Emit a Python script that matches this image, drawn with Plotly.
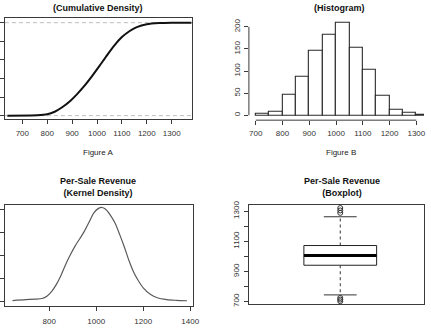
import plotly.graph_objects as go

W, H = 431, 332
FONT = "Liberation Sans, Arial, sans-serif"
AX = "#3a3a3a"

# ---- Figure A: cumulative share of sales by revenue ----
ecdf_revenue = [640, 760, 800, 830, 860, 890, 920, 950, 980, 1010, 1040,
                1070, 1100, 1130, 1160, 1200, 1250, 1300, 1380]
ecdf_share = [0, 0.004, 0.014, 0.042, 0.09, 0.152, 0.232, 0.322, 0.425, 0.535, 0.648,
              0.755, 0.845, 0.908, 0.952, 0.983, 0.996, 1.0, 1.0]
ecdf_xticks = [700, 800, 900, 1000, 1100, 1200, 1300]
ecdf_yticks = [0, 0.2, 0.4, 0.6, 0.8, 1.0]

# ---- Figure B: histogram of revenue (bins of 50) ----
hist_edges = [700, 750, 800, 850, 900, 950, 1000, 1050, 1100, 1150, 1200, 1250, 1300, 1350]
hist_counts = [3, 9, 47, 87, 145, 183, 210, 153, 104, 44, 12, 5, 2]
hist_xticks = [700, 800, 900, 1000, 1100, 1200, 1300]
hist_yticks = [0, 50, 100, 150, 200]

# ---- Kernel density estimate ----
kde_revenue = [644, 700, 740, 770, 790, 810, 830, 850, 870, 890, 910, 930, 950, 970,
               990, 1010, 1025, 1040, 1060, 1080, 1100, 1120, 1140, 1160, 1180, 1200,
               1230, 1260, 1300, 1340, 1386]
kde_density = [0.00003, 0.00007, 0.00009, 0.00012, 0.00022, 0.00042, 0.00072, 0.00112,
               0.0016, 0.00202, 0.0024, 0.00272, 0.00305, 0.00345, 0.00385, 0.00404,
               0.00408, 0.004, 0.00375, 0.0034, 0.0029, 0.00235, 0.00175, 0.00125,
               0.00088, 0.00058, 0.0003, 0.00015, 0.00007, 0.00004, 0.00002]
kde_xticks = [800, 1000, 1200, 1400]
kde_yticks = [0, 0.001, 0.002, 0.003, 0.004]

# ---- Boxplot summary ----
box_lower_whisker = 744
box_q1 = 941
box_median = 1006
box_q3 = 1072
box_upper_whisker = 1263
box_outliers = [702, 713, 724, 1289, 1305, 1321]
box_yticks = [700, 800, 900, 1000, 1100, 1200, 1300]
box_yticklabels = ["700", "", "900", "", "1100", "", "1300"]


def xdom(left, right):
    return [left / W, min(right / W, 1.0)]


def ydom(top, bottom):
    return [1 - bottom / H, 1 - top / H]


fig = go.Figure()

# Figure A
fig.add_trace(go.Scatter(x=ecdf_revenue, y=ecdf_share, mode="lines",
                         line=dict(color="#111111", width=2, shape="spline", smoothing=0.6),
                         xaxis="x", yaxis="y", showlegend=False, hoverinfo="skip"))
for level in (ecdf_yticks[0], ecdf_yticks[-1]):
    fig.add_shape(type="line", xref="x domain", yref="y", x0=0, x1=1, y0=level, y1=level,
                  line=dict(color="#bdbdbd", width=1, dash="4px,3px"), layer="below")

# Figure B
centers = [(a + b) / 2 for a, b in zip(hist_edges[:-1], hist_edges[1:])]
widths = [b - a for a, b in zip(hist_edges[:-1], hist_edges[1:])]
fig.add_trace(go.Bar(x=centers, y=hist_counts, width=widths,
                     marker=dict(color="white", line=dict(color="#2a2a2a", width=1.1)),
                     xaxis="x2", yaxis="y2", showlegend=False, hoverinfo="skip"))
fig.add_shape(type="line", xref="x2", yref="y2 domain", x0=hist_xticks[0], x1=hist_xticks[-1],
              y0=0, y1=0, line=dict(color=AX, width=1))
fig.add_shape(type="line", xref="x2 domain", yref="y2", x0=0, x1=0, y0=hist_yticks[0],
              y1=hist_yticks[-1], line=dict(color=AX, width=1))

# Kernel density
fig.add_trace(go.Scatter(x=kde_revenue, y=kde_density, mode="lines",
                         line=dict(color="#5a5a5a", width=1.2, shape="spline", smoothing=0.8),
                         xaxis="x3", yaxis="y3", showlegend=False, hoverinfo="skip"))

# Boxplot (R style: dashed whiskers with staples)
BOX_HALF = 0.215
STAPLE_HALF = 0.097
cx = 1.0
fig.add_trace(go.Scatter(
    x=[cx - BOX_HALF, cx + BOX_HALF, cx + BOX_HALF, cx - BOX_HALF, cx - BOX_HALF],
    y=[box_q1, box_q1, box_q3, box_q3, box_q1], mode="lines",
    line=dict(color="#222222", width=1), xaxis="x4", yaxis="y4",
    showlegend=False, hoverinfo="skip"))
fig.add_trace(go.Scatter(x=[cx - BOX_HALF, cx + BOX_HALF], y=[box_median, box_median],
                         mode="lines", line=dict(color="#000000", width=3),
                         xaxis="x4", yaxis="y4", showlegend=False, hoverinfo="skip"))
for a, b in ((box_q3, box_upper_whisker), (box_q1, box_lower_whisker)):
    fig.add_trace(go.Scatter(x=[cx, cx], y=[a, b], mode="lines",
                             line=dict(color="#333333", width=1, dash="3px,3px"),
                             xaxis="x4", yaxis="y4", showlegend=False, hoverinfo="skip"))
    fig.add_trace(go.Scatter(x=[cx - STAPLE_HALF, cx + STAPLE_HALF], y=[b, b], mode="lines",
                             line=dict(color="#333333", width=1),
                             xaxis="x4", yaxis="y4", showlegend=False, hoverinfo="skip"))
fig.add_trace(go.Scatter(x=[cx] * len(box_outliers), y=box_outliers, mode="markers",
                         marker=dict(symbol="circle-open", size=5, color="#333333",
                                     line=dict(width=1)),
                         xaxis="x4", yaxis="y4", showlegend=False, hoverinfo="skip"))

tickfont = dict(family=FONT, size=8, color="#333333")
common = dict(showgrid=False, zeroline=False, ticks="outside", ticklen=4, tickwidth=1,
              tickcolor=AX, tickfont=tickfont, fixedrange=True)
boxed = dict(showline=True, linecolor=AX, linewidth=1, mirror=True)

fig.update_layout(
    width=W, height=H, margin=dict(l=0, r=0, t=0, b=0),
    paper_bgcolor="white", plot_bgcolor="white",
    font=dict(family=FONT, color="#222222"),
    bargap=0,
    xaxis=dict(domain=xdom(5, 195), range=[630, 1381], tickvals=ecdf_xticks,
               ticklabelstandoff=3, anchor="y", **common, **boxed),
    yaxis=dict(domain=ydom(14, 117), range=[-0.035, 1.053], tickvals=ecdf_yticks,
               showticklabels=False, anchor="x", **common, **boxed),
    xaxis2=dict(domain=xdom(253, 431), range=[674.3, 1328.7], tickvals=hist_xticks,
                ticklabelstandoff=1, anchor="y2", showline=False, **common),
    yaxis2=dict(domain=ydom(15, 118.3), range=[-11.1, 218.4], tickvals=hist_yticks,
                tickangle=-90, ticklabelstandoff=1, anchor="x2", showline=False, **common),
    xaxis3=dict(domain=xdom(5, 196), range=[611.7, 1410.9], tickvals=kde_xticks,
                ticklabelstandoff=3, anchor="y3", **common, **boxed),
    yaxis3=dict(domain=ydom(205, 307.7), range=[-0.000214, 0.004175], tickvals=kde_yticks,
                showticklabels=False, anchor="x3", **common, **boxed),
    xaxis4=dict(domain=xdom(253, 431), range=[0.46, 1.495], showticklabels=False,
                showline=True, linecolor=AX, linewidth=1, mirror=True, ticks="",
                showgrid=False, zeroline=False, anchor="y4", fixedrange=True),
    yaxis4=dict(domain=ydom(204.3, 306), range=[680.4, 1343.7], tickvals=box_yticks,
                ticktext=box_yticklabels, tickangle=-90, ticklabelstandoff=2,
                anchor="x4", **common, **boxed),
)

titlefont = dict(family=FONT, size=9, color="#111111")
labelfont = dict(family=FONT, size=8, color="#222222")


def add_text(text, xpx, ypx, font):
    fig.add_annotation(text=text, x=xpx / W, y=1 - ypx / H, xref="paper", yref="paper",
                       xanchor="center", yanchor="middle", showarrow=False, font=font)


add_text("<b>(Cumulative Density)</b>", 100, 4.5, titlefont)
add_text("<b>(Histogram)</b>", 345, 4.5, titlefont)
add_text("<b>Per-Sale Revenue<br>(Kernel Density)</b>", 100, 186, titlefont)
add_text("<b>Per-Sale Revenue<br>(Boxplot)</b>", 348, 186.5, titlefont)
add_text("Figure A", 100, 151.7, labelfont)
add_text("Figure B", 346.7, 151.7, labelfont)

fig.write_html("out.html")
